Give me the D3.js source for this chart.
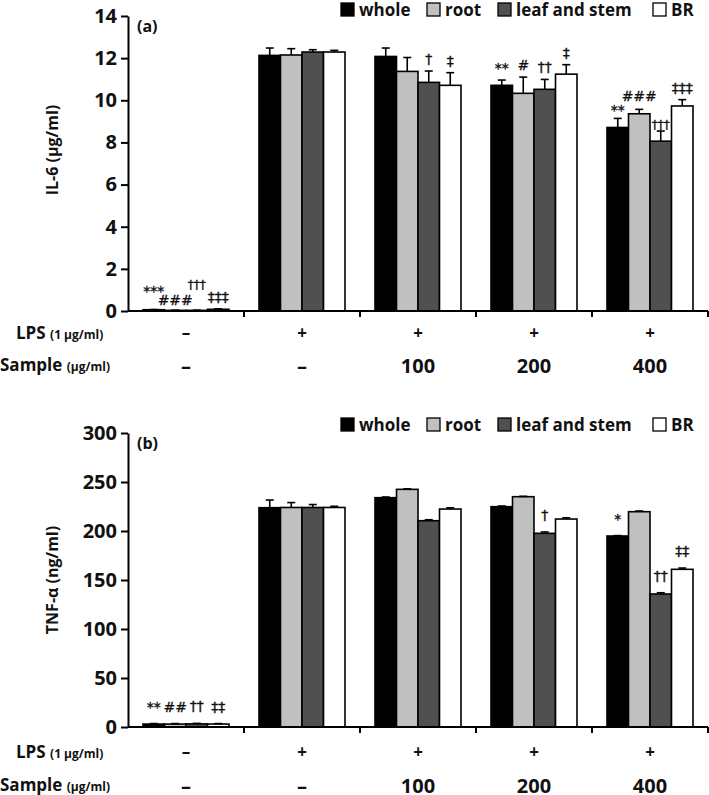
<!DOCTYPE html>
<html>
<head>
<meta charset="utf-8">
<script src="https://cdn.jsdelivr.net/npm/d3@7"></script>
<style>
  html, body { margin: 0; padding: 0; background: #fff; }
  svg text { font-family: "Open Sans", "Noto Sans", sans-serif; }
  svg text.mark { font-family: "DejaVu Sans", sans-serif; }
</style>
</head>
<body>
<svg id="chart" width="709" height="795"></svg>
<script>
// ---------- DATA ----------
const groups = ["ctrl", "lps", "s100", "s200", "s400"];
const lpsLabels = ["–", "+", "+", "+", "+"];
const sampleLabels = ["–", "–", "100", "200", "400"];
const seriesNames = ["whole", "root", "leaf and stem", "BR"];
const seriesColors = ["#000000", "#c0c0c0", "#505050", "#ffffff"];

// IL-6 (µg/ml)
const il6Whole = [0.06, 12.13, 12.08, 10.71, 8.71];
const il6Root  = [0.03, 12.15, 11.37, 10.33, 9.36];
const il6Leaf  = [0.03, 12.29, 10.85, 10.52, 8.06];
const il6BR    = [0.08, 12.29, 10.71, 11.24, 9.73];
const il6WholeErr = [0.01, 0.35, 0.40, 0.25, 0.43];
const il6RootErr  = [0.01, 0.30, 0.66, 0.77, 0.21];
const il6LeafErr  = [0.01, 0.11, 0.54, 0.47, 0.48];
const il6BRErr    = [0.02, 0.08, 0.60, 0.45, 0.30];
const il6Ticks = [0, 2, 4, 6, 8, 10, 12, 14];
const il6Marks = [
  ["***", "###", "†††", "‡‡‡"],
  ["", "", "", ""],
  ["", "", "†", "‡"],
  ["**", "#", "††", "‡"],
  ["**", "###", "†††", "‡‡‡"]
];

// TNF-α (ng/ml)
const tnfWhole = [3.0, 223.8, 234.0, 224.8, 194.9];
const tnfRoot  = [3.0, 224.0, 242.5, 235.0, 219.7];
const tnfLeaf  = [3.2, 224.0, 210.5, 197.6, 135.7];
const tnfBR    = [3.0, 224.0, 222.4, 212.2, 160.9];
const tnfWholeErr = [0.5, 7.8, 0.7, 0.7, 0.4];
const tnfRootErr  = [0.5, 5.0, 0.5, 0.4, 0.7];
const tnfLeafErr  = [0.5, 3.0, 1.0, 1.4, 1.3];
const tnfBRErr    = [0.5, 1.2, 1.3, 1.3, 1.3];
const tnfTicks = [0, 50, 100, 150, 200, 250, 300];
const tnfMarks = [
  ["**", "##", "††", "‡‡"],
  ["", "", "", ""],
  ["", "", "", ""],
  ["", "", "†", ""],
  ["*", "", "††", "‡‡"]
];

// ---------- DRAW ----------
const svg = d3.select("#chart");
const xLeft = 128, xRight = 708;

const x0 = d3.scaleBand().domain(groups).range([xLeft, xRight]);
const bw = x0.bandwidth();
const groupW = 86;
const x1 = d3.scaleBand().domain(seriesNames)
  .range([(bw - groupW) / 2, (bw + groupW) / 2]);

function drawPanel(cfg) {
  const g = svg.append("g");
  const y = d3.scaleLinear().domain([0, cfg.max]).range([cfg.yBottom, cfg.yTop]);
  const vals = cfg.values, errs = cfg.errors;

  // legend
  const legX = [341, 427, 498, 653];
  seriesNames.forEach((s, i) => {
    g.append("rect").attr("x", legX[i]).attr("y", cfg.legendY - 13)
      .attr("width", 13).attr("height", 13)
      .attr("fill", seriesColors[i]).attr("stroke", "#000").attr("stroke-width", 1.3);
    g.append("text").attr("x", legX[i] + 18).attr("y", cfg.legendY)
      .attr("font-size", 17).attr("font-weight", 700).attr("fill", "#111").text(s);
  });

  // bars
  seriesNames.forEach((s, si) => {
    groups.forEach((grp, gi) => {
      const v = vals[si][gi], e = errs[si][gi];
      const bx = x0(grp) + x1(s);
      const w = x1.bandwidth();
      g.append("rect")
        .attr("x", bx).attr("y", y(v))
        .attr("width", w).attr("height", y(0) - y(v))
        .attr("fill", seriesColors[si]).attr("stroke", "#000").attr("stroke-width", 1.6);
      const cx = bx + w / 2;
      g.append("line").attr("x1", cx).attr("x2", cx).attr("y1", y(v)).attr("y2", y(v + e))
        .attr("stroke", "#000").attr("stroke-width", 1.6);
      g.append("line").attr("x1", cx - 4).attr("x2", cx + 4).attr("y1", y(v + e)).attr("y2", y(v + e))
        .attr("stroke", "#000").attr("stroke-width", 1.6);
      const m = cfg.marks[gi][si];
      if (m) {
        const lift = (cfg.markLift[gi] && cfg.markLift[gi][si]) || cfg.defaultLift;
        g.append("text").attr("class", "mark").attr("x", cx).attr("y", y(v + e) - lift)
          .attr("text-anchor", "middle")
          .attr("font-size", (cfg.markSize[gi] && cfg.markSize[gi][si]) || 14)
          .attr("fill", "#111").attr("stroke", "#111").attr("stroke-width", 0.35)
          .text(m);
      }
    });
  });

  // y axis
  const yAxis = d3.axisLeft(y).tickValues(cfg.ticks).tickSize(7).tickSizeOuter(0).tickPadding(4);
  const ya = g.append("g").attr("transform", `translate(${xLeft},0)`).call(yAxis);
  ya.select(".domain").attr("stroke-width", 2);
  ya.selectAll(".tick line").attr("stroke-width", 2);
  ya.selectAll(".tick text").attr("font-size", 20).attr("font-weight", 700).attr("fill", "#111")
    .attr("font-family", "'Open Sans', sans-serif");

  // x axis with ticks at group boundaries
  const xa = g.append("g").attr("transform", `translate(0,${cfg.yBottom})`);
  xa.append("line").attr("x1", xLeft).attr("x2", xRight).attr("stroke", "#000").attr("stroke-width", 2);
  groups.forEach(grp => {
    const xb = x0(grp) + bw;
    xa.append("line").attr("x1", xb).attr("x2", xb).attr("y1", 0).attr("y2", 6)
      .attr("stroke", "#000").attr("stroke-width", 2);
  });

  // y axis title
  g.append("text")
    .attr("transform", `translate(58,${cfg.titleY}) rotate(-90)`)
    .attr("text-anchor", "middle").attr("font-size", 16).attr("font-weight", 700).attr("fill", "#111")
    .text(cfg.title);

  // panel label
  g.append("text").attr("x", 137).attr("y", cfg.yTop + 16)
    .attr("font-size", 16).attr("font-weight", 700).attr("fill", "#111").text(cfg.label);

  // row labels
  const lps = g.append("text").attr("x", 16).attr("y", cfg.lpsY).attr("font-weight", 700).attr("fill", "#111");
  lps.append("tspan").attr("font-size", 17).text("LPS ");
  lps.append("tspan").attr("font-size", 12).text("(1 μg/ml)");
  const smp = g.append("text").attr("x", 0).attr("y", cfg.sampleY).attr("font-weight", 700).attr("fill", "#111");
  smp.append("tspan").attr("font-size", 17).text("Sample ");
  smp.append("tspan").attr("font-size", 12).text("(μg/ml)");

  groups.forEach((grp, gi) => {
    const cx = x0(grp) + bw / 2;
    g.append("text").attr("x", cx).attr("y", cfg.lpsY).attr("text-anchor", "middle")
      .attr("font-size", 17).attr("font-weight", 700).attr("fill", "#111").text(lpsLabels[gi]);
    g.append("text").attr("x", cx).attr("y", cfg.sampleY + 2).attr("text-anchor", "middle")
      .attr("font-size", 20).attr("font-weight", 700).attr("fill", "#111").text(sampleLabels[gi]);
  });
}

drawPanel({
  max: 14, yTop: 16, yBottom: 311, ticks: il6Ticks,
  values: [il6Whole, il6Root, il6Leaf, il6BR],
  errors: [il6WholeErr, il6RootErr, il6LeafErr, il6BRErr],
  marks: il6Marks,
  markLift: [[14, 5, 21, 7], [], [], [], [3, 8, 2, 7]],
  markSize: [[14, 14, 12, 14], [], [], [], [14, 14, 12, 14]],
  defaultLift: 7,
  legendY: 16, title: "IL-6 (μg/ml)", titleY: 150, label: "(a)",
  lpsY: 339, sampleY: 371
});

drawPanel({
  max: 300, yTop: 433, yBottom: 727, ticks: tnfTicks,
  values: [tnfWhole, tnfRoot, tnfLeaf, tnfBR],
  errors: [tnfWholeErr, tnfRootErr, tnfLeafErr, tnfBRErr],
  marks: tnfMarks,
  markLift: [],
  markSize: [],
  defaultLift: 12,
  legendY: 431, title: "TNF-α (ng/ml)", titleY: 580, label: "(b)",
  lpsY: 758, sampleY: 791
});
</script>
</body>
</html>
